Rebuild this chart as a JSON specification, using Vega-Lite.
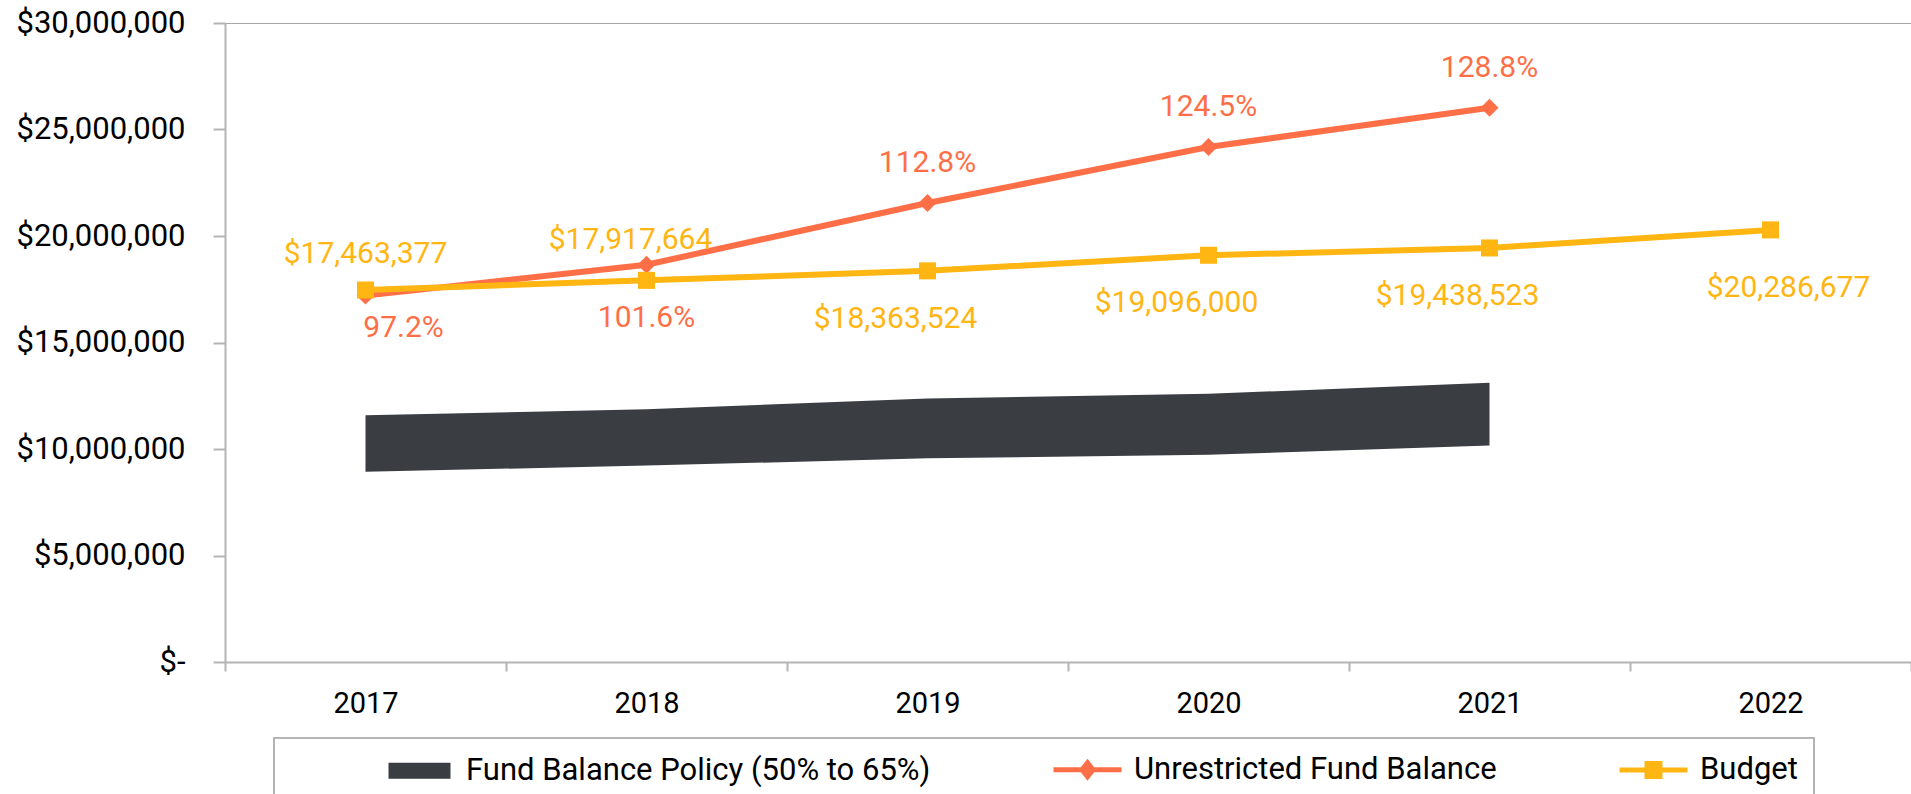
{
  "$schema": "https://vega.github.io/schema/vega-lite/v6.json",
  "autosize": "none",
  "width": 1686,
  "height": 639,
  "padding": {"left": 225, "top": 23, "right": 0, "bottom": 132},
  "background": "#ffffff",
  "config": {
    "font": "Roboto",
    "view": {"stroke": "#a6a6a6", "strokeWidth": 1},
    "legend": {"strokeWidth": 2},
    "axis": {"labelFont": "Roboto", "labelFontSize": 29, "labelColor": "#000000", "domainColor": "#b4b4b4", "domainWidth": 2, "tickColor": "#b4b4b4", "tickWidth": 2, "grid": false, "title": null}
  },
  "data": {
    "values": [
      {"year": "2017", "budget": 17463377, "balance": 17200000, "pct": 0.972, "low": 8930000, "high": 11580000},
      {"year": "2018", "budget": 17917664, "balance": 18650000, "pct": 1.016, "low": 9220000, "high": 11870000},
      {"year": "2019", "budget": 18363524, "balance": 21550000, "pct": 1.128, "low": 9560000, "high": 12370000},
      {"year": "2020", "budget": 19096000, "balance": 24180000, "pct": 1.245, "low": 9730000, "high": 12590000},
      {"year": "2021", "budget": 19438523, "balance": 26020000, "pct": 1.288, "low": 10170000, "high": 13110000},
      {"year": "2022", "budget": 20286677, "balance": null, "pct": null, "low": null, "high": null}
    ]
  },
  "encoding": {
    "x": {
      "field": "year", "type": "ordinal",
      "scale": {"type": "band", "paddingInner": 0, "paddingOuter": 0},
      "axis": {"tickBand": "extent", "tickSize": 9, "labelPadding": 18, "labelAngle": 0}
    }
  },
  "layer": [
    {
      "transform": [{"filter": "isValid(datum.low)"}],
      "mark": {"type": "area", "opacity": 1},
      "encoding": {
        "y": {
          "field": "low", "type": "quantitative",
          "scale": {"domain": [0, 30000000], "nice": false},
          "axis": {"values": [0, 5000000, 10000000, 15000000, 20000000, 25000000, 30000000], "tickSize": 12, "labelPadding": 28, "labelFontSize": 31, "labelExpr": "datum.value === 0 ? '$-' : '$' + format(datum.value, ',')"}
        },
        "y2": {"field": "high"},
        "color": {
          "datum": "Fund Balance Policy (50% to 65%)",
          "type": "nominal",
          "scale": {"domain": ["Fund Balance Policy (50% to 65%)", "Unrestricted Fund Balance", "Budget"], "range": ["#3a3e42", "#ff6f47", "#ffb512"]},
          "legend": {
            "title": " ", "titleOrient": "left", "titlePadding": 114, "titleFontSize": 4,
            "orient": "none", "legendX": 49, "legendY": 715, "direction": "horizontal",
            "strokeColor": "#b4b4b4", "padding": 16,
            "labelFont": "Roboto", "labelFontSize": 31, "labelColor": "#000000", "labelLimit": 900,
            "labelOffset": 31, "columnPadding": 112,
            "symbolSize": 400, "symbolStrokeWidth": 5, "symbolOpacity": 1,
            "labelExpr": "datum.label === 'Budget' ? 'Budget' + '                                        ' : datum.label",
            "encode": {
              "symbols": {"update": {
                "shape": {"signal": "datum.value === 'Budget' ? 'M-3.4,0H3.4M-0.65,-0.65H0.65V0.65H-0.65Z' : datum.value === 'Unrestricted Fund Balance' ? 'M-3.4,0H3.4M0,-0.7L0.55,0L0,0.7L-0.55,0Z' : 'M-3.1,-0.8H3.1V0.8H-3.1Z'"},
                "fill": {"scale": "color", "field": "value"},
                "stroke": {"scale": "color", "field": "value"},
                "strokeWidth": {"signal": "datum.value === 'Fund Balance Policy (50% to 65%)' ? 0 : 5"},
                "opacity": {"value": 1}
              }}
            }
          }
        }
      }
    },
    {
      "transform": [{"filter": "isValid(datum.balance)"}],
      "mark": {"type": "line", "strokeWidth": 6},
      "encoding": {"y": {"field": "balance", "type": "quantitative"}, "color": {"datum": "Unrestricted Fund Balance", "type": "nominal"}}
    },
    {
      "transform": [{"filter": "isValid(datum.balance)"}],
      "mark": {"type": "point", "shape": "diamond", "filled": true, "size": 320, "opacity": 1},
      "encoding": {"y": {"field": "balance", "type": "quantitative"}, "color": {"datum": "Unrestricted Fund Balance", "type": "nominal"}}
    },
    {
      "mark": {"type": "line", "strokeWidth": 6},
      "encoding": {"y": {"field": "budget", "type": "quantitative"}, "color": {"datum": "Budget", "type": "nominal"}}
    },
    {
      "mark": {"type": "point", "shape": "square", "filled": true, "size": 290, "opacity": 1},
      "encoding": {"y": {"field": "budget", "type": "quantitative"}, "color": {"datum": "Budget", "type": "nominal"}}
    },
    {
      "transform": [{"filter": "datum.year === '2017'"}],
      "mark": {"type": "text", "font": "Roboto", "fontSize": 30, "color": "#ffb512", "baseline": "middle", "align": "center", "dy": -36, "dx": 0},
      "encoding": {"y": {"field": "budget", "type": "quantitative"}, "text": {"field": "budget", "format": "$,.0f"}}
    },
    {
      "transform": [{"filter": "datum.year === '2018'"}],
      "mark": {"type": "text", "font": "Roboto", "fontSize": 30, "color": "#ffb512", "baseline": "middle", "align": "center", "dy": -40, "dx": -16},
      "encoding": {"y": {"field": "budget", "type": "quantitative"}, "text": {"field": "budget", "format": "$,.0f"}}
    },
    {
      "transform": [{"filter": "datum.year === '2019' || datum.year === '2020' || datum.year === '2021'"}],
      "mark": {"type": "text", "font": "Roboto", "fontSize": 30, "color": "#ffb512", "baseline": "middle", "align": "center", "dy": 48, "dx": -32},
      "encoding": {"y": {"field": "budget", "type": "quantitative"}, "text": {"field": "budget", "format": "$,.0f"}}
    },
    {
      "transform": [{"filter": "datum.year === '2022'"}],
      "mark": {"type": "text", "font": "Roboto", "fontSize": 30, "color": "#ffb512", "baseline": "middle", "align": "center", "dy": 58, "dx": 18},
      "encoding": {"y": {"field": "budget", "type": "quantitative"}, "text": {"field": "budget", "format": "$,.0f"}}
    },
    {
      "transform": [{"filter": "datum.year === '2017'"}],
      "mark": {"type": "text", "font": "Roboto", "fontSize": 30, "color": "#ff6f47", "baseline": "middle", "align": "center", "dy": 32, "dx": 38},
      "encoding": {"y": {"field": "balance", "type": "quantitative"}, "text": {"field": "pct", "format": ".1%"}}
    },
    {
      "transform": [{"filter": "datum.year === '2018'"}],
      "mark": {"type": "text", "font": "Roboto", "fontSize": 30, "color": "#ff6f47", "baseline": "middle", "align": "center", "dy": 53, "dx": 0},
      "encoding": {"y": {"field": "balance", "type": "quantitative"}, "text": {"field": "pct", "format": ".1%"}}
    },
    {
      "transform": [{"filter": "datum.year === '2019' || datum.year === '2020' || datum.year === '2021'"}],
      "mark": {"type": "text", "font": "Roboto", "fontSize": 30, "color": "#ff6f47", "baseline": "middle", "align": "center", "dy": -40, "dx": 0},
      "encoding": {"y": {"field": "balance", "type": "quantitative"}, "text": {"field": "pct", "format": ".1%"}}
    }
  ]
}
